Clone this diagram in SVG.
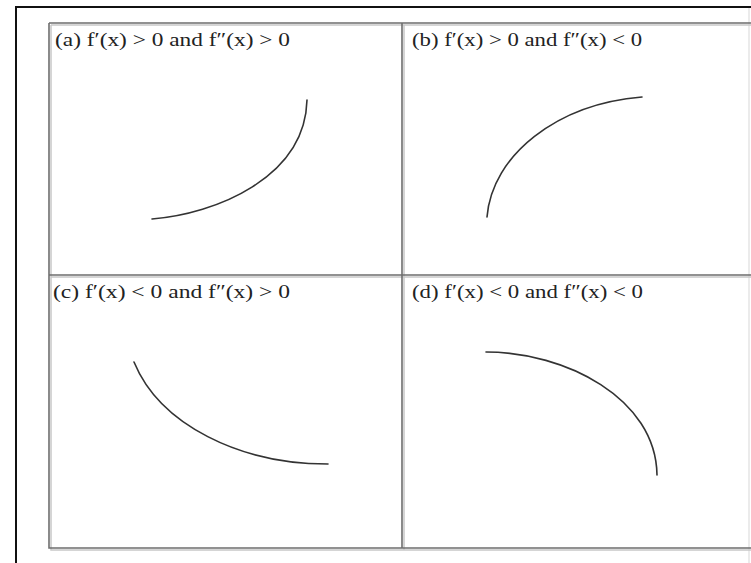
<svg xmlns="http://www.w3.org/2000/svg" width="751" height="563" viewBox="0 0 751 563">
<style>
.frame{stroke:#111;stroke-width:2;fill:none}
.grid{stroke:#6e6e6e;stroke-width:1.6;fill:none}
.shadow{stroke:#c8c8c8;stroke-width:1.5;fill:none}
.curve{stroke:#333;stroke-width:1.6;fill:none;stroke-linecap:round}
.lbl{font-family:"Liberation Serif","Times New Roman",serif;font-size:18.5px;fill:#222}
</style>
<rect width="751" height="563" fill="#fff"/>
<g id="frame">
<path class="frame" d="M16,563 V7 H751"/>
<line x1="749" y1="8" x2="749" y2="563" stroke="#e4e4e4" stroke-width="1.5"/>
</g>
<g id="table">
<path class="shadow" d="M51,25 V550 H751 M404,25 V550 M51,277 H751 M51,25 H751"/>
<path class="grid" d="M49,23 V548 H751 M402,23 V548 M49,275 H751 M49,23 H751"/>
</g>
<g id="cell-a">
<text class="lbl" x="55" y="46" textLength="235" lengthAdjust="spacingAndGlyphs">(a) f′(x) &gt; 0 and f″(x) &gt; 0</text>
<path class="curve" d="M152,219 C215,214 305,178 307,100"/>
</g>
<g id="cell-b">
<text class="lbl" x="412" y="46" textLength="230" lengthAdjust="spacingAndGlyphs">(b) f′(x) &gt; 0 and f″(x) &lt; 0</text>
<path class="curve" d="M487,217 C492,155 557,104 642,97"/>
</g>
<g id="cell-c">
<text class="lbl" x="53" y="298" textLength="237" lengthAdjust="spacingAndGlyphs">(c) f′(x) &lt; 0 and f″(x) &gt; 0</text>
<path class="curve" d="M134,362 C160,425 240,464 328,464"/>
</g>
<g id="cell-d">
<text class="lbl" x="412" y="298" textLength="231" lengthAdjust="spacingAndGlyphs">(d) f′(x) &lt; 0 and f″(x) &lt; 0</text>
<path class="curve" d="M486,352 C565,352 656,398 657,475"/>
</g>
</svg>
